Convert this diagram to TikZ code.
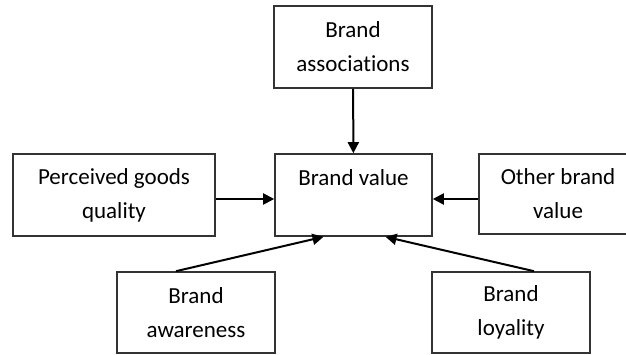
\documentclass[tikz,border=0pt]{standalone}
\usepackage{fontspec}
\setmainfont{Carlito}[Ligatures=CommonOff]
\usetikzlibrary{arrows.meta,positioning}

\begin{document}
\begin{tikzpicture}[x=1pt, y=-1pt,
    factor/.style={draw=black!80, line width=1.6pt, align=center, inner sep=0pt,
      minimum width=158pt, minimum height=82pt, font=\fontsize{23}{34}\selectfont},
    link/.style={-{Triangle[length=11pt,width=11pt]}, line width=2pt}]
  \clip (0,0) rectangle (626,355);
  % boxes
  \node [factor] (assoc) at (353, 47) {Brand\\associations};
  \node [factor, minimum width=202pt] (pgq) at (114, 195) {Perceived goods\\quality};
  \node [factor, minimum width=157pt] (value) at (353.5, 195) {Brand value\\\mbox{}};
  \node [factor, minimum height=80pt] (other) at (558, 194) {Other brand\\value};
  \node [factor, minimum height=81pt] (aware) at (196, 312.5) {Brand\\awareness};
  \node [factor, minimum height=81pt] (loyal) at (511, 312.5) {Brand\\loyality};
  % arrows
  \draw [link] (assoc) -- (value);
  \draw [link] ([yshift=-4pt]pgq.east) -- ([yshift=-4pt]value.west);
  \draw [link] ([yshift=-5pt]other.west) -- ([yshift=-4pt]value.east);
  \draw [link] ([xshift=-20pt]aware.north) -- ([xshift=-30pt]value.south);
  \draw [link] ([xshift=23pt]loyal.north) -- ([xshift=32pt]value.south);
\end{tikzpicture}
\end{document}
